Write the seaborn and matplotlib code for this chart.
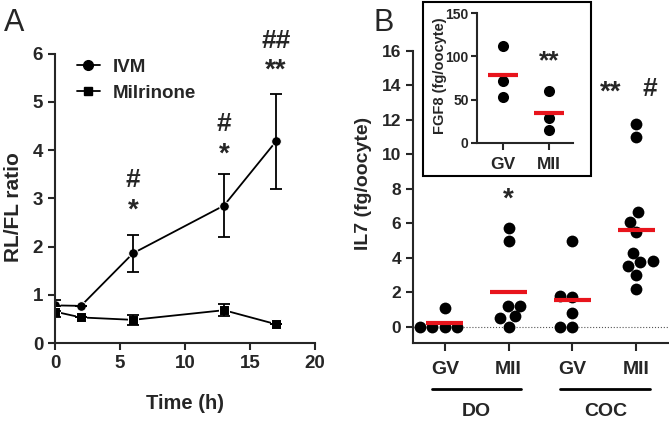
import numpy as np
import pandas as pd
import matplotlib
matplotlib.use("Agg")
import matplotlib.pyplot as plt
import seaborn as sns
from matplotlib.patches import Rectangle
from matplotlib.lines import Line2D

sns.set_style("ticks")
plt.rcParams['font.family'] = ['Liberation Sans', 'DejaVu Sans']
plt.rcParams['font.weight'] = 'bold'

# ---------- Panel A data ----------
time_h = [0, 2, 6, 13, 17]
ivm_mean = [0.78, 0.77, 1.86, 2.85, 4.18]
ivm_err = [0.12, 0.0, 0.38, 0.65, 0.98]
mil_mean = [0.65, 0.53, 0.48, 0.68, 0.39]
mil_err = [0.12, 0.0, 0.10, 0.12, 0.0]
a_star = ['', '', '*', '*', '**']
a_hash = ['', '', '#', '#', '##']
a_star_y = [0, 0, 2.75, 3.9, 5.65]
a_hash_y = [0, 0, 3.37, 4.55, 6.27]

# ---------- Panel B data ----------
b_categories = ['DO GV', 'DO MII', 'COC GV', 'COC MII']
b_ticklabels = ['GV', 'MII', 'GV', 'MII']
do_gv = [1.1, 0.0, 0.0, 0.0, 0.0]
do_mii = [5.72, 4.99, 1.22, 1.18, 0.6, 0.5, 0.0]
coc_gv = [4.95, 1.7, 1.76, 0.79, 0.0, 0.0]
coc_mii = [11.75, 10.98, 6.65, 6.1, 5.49, 4.27, 3.54, 3.73, 3.79, 3.0, 2.18]
groups = ['DO', 'COC']

inset_categories = ['GV', 'MII']
fgf8_gv = [112, 71, 53]
fgf8_mii = [60, 29, 15]

fig = plt.figure(figsize=(6.69, 4.21), dpi=100)

# ================= Panel A =================
axA = fig.add_axes([55/669, 1-343/421, 260/669, 289.4/421])
dfA = pd.DataFrame({
    'Time': time_h * 2,
    'ratio': ivm_mean + mil_mean,
    'group': ['IVM'] * len(time_h) + ['Milrinone'] * len(time_h),
})
sns.lineplot(data=dfA, x='Time', y='ratio', style='group', markers={'IVM': 'o', 'Milrinone': 's'},
             dashes=False, color='black', linewidth=1.3, markersize=7, ax=axA, legend=False)
axA.errorbar(time_h, ivm_mean, yerr=ivm_err, fmt='none', ecolor='black', elinewidth=1.3, capsize=4, capthick=1.3)
axA.errorbar(time_h, mil_mean, yerr=mil_err, fmt='none', ecolor='black', elinewidth=1.3, capsize=4, capthick=1.3)
axA.set_xlim(0, 20)
axA.set_ylim(0, 6)
axA.set_xticks([0, 5, 10, 15, 20])
axA.set_yticks(range(0, 7))
axA.set_xlabel('Time (h)', fontsize=14.5, fontweight='bold')
axA.set_ylabel('RL/FL ratio', fontsize=15, fontweight='bold')
axA.xaxis.set_label_coords(0.5, -0.175)
axA.yaxis.set_label_coords(-0.125, 0.47)
axA.tick_params(labelsize=13.5, width=1.5, length=5)
for lbl in axA.get_xticklabels() + axA.get_yticklabels():
    lbl.set_fontweight('bold')
for s in ['top', 'right']:
    axA.spines[s].set_visible(False)
for s in ['left', 'bottom']:
    axA.spines[s].set_linewidth(1.5)
for x, t, y in zip(time_h, a_star, a_star_y):
    if t:
        axA.text(x, y, t, ha='center', va='center', fontsize=20, fontweight='bold')
for x, t, y in zip(time_h, a_hash, a_hash_y):
    if t:
        axA.text(x, y, t, ha='center', va='center', fontsize=19, fontweight='bold', clip_on=False)
handles = [Line2D([], [], color='black', marker='o', markersize=7, linewidth=1.3),
           Line2D([], [], color='black', marker='s', markersize=6, linewidth=1.3)]
axA.legend(handles, ['IVM', 'Milrinone'], loc='upper left', bbox_to_anchor=(0.02, 1.04), frameon=False,
           prop={'size': 13.5, 'weight': 'bold'}, handlelength=1.2, handletextpad=0.7, labelspacing=0.45)
fig.text(4/669, 1-23/421, 'A', fontsize=22, fontweight='normal', va='center')

# ================= Panel B =================
axB = fig.add_axes([413/669, 1-343/421, 255/669, 292/421])
b_values = [do_gv, do_mii, coc_gv, coc_mii]
dfB = pd.DataFrame({
    'cat': [c for c, v in zip(b_categories, b_values) for _ in v],
    'val': [x for v in b_values for x in v],
})
axB.axhline(0, color='#555555', linestyle=':', linewidth=0.8, zorder=0)
sns.swarmplot(data=dfB, x='cat', y='val', order=b_categories, color='black', size=8.5, ax=axB)
for i, v in enumerate(b_values):
    axB.hlines(np.mean(v), i - 0.29, i + 0.29, color='#e8141c', linewidth=3, zorder=3)
axB.set_xlim(-0.5, 3.5)
axB.set_ylim(-0.95, 16)
axB.set_yticks(range(0, 17, 2))
axB.set_xticks(range(4))
axB.set_xticklabels(b_ticklabels)
axB.set_xlabel('')
axB.set_ylabel('IL7 (fg/oocyte)', fontsize=14, fontweight='bold')
axB.yaxis.set_label_coords(-0.16, 0.545)
axB.tick_params(axis='y', labelsize=12.5, width=1.5, length=5)
axB.tick_params(axis='x', labelsize=14, width=1.5, length=6, pad=7)
for lbl in axB.get_xticklabels() + axB.get_yticklabels():
    lbl.set_fontweight('bold')
for s in ['top', 'right']:
    axB.spines[s].set_visible(False)
for s in ['left', 'bottom']:
    axB.spines[s].set_linewidth(1.5)
tr = axB.get_xaxis_transform()
for (x0, x1), g, xc in zip([(-0.2, 1.2), (1.81, 3.22)], groups, [0.5, 2.52]):
    axB.plot([x0, x1], [-0.158, -0.158], color='black', linewidth=2, transform=tr, clip_on=False)
    axB.text(xc, -0.236, g, transform=tr, ha='center', va='center', fontsize=14, fontweight='bold')
axB.text(1, 7.4, '*', ha='center', va='center', fontsize=20, fontweight='bold')
axB.text(2.6, 13.6, '**', ha='center', va='center', fontsize=20, fontweight='bold')
axB.text(3.22, 13.8, '#', ha='center', va='center', fontsize=19, fontweight='bold')
fig.text(374/669, 1-23/421, 'B', fontsize=22, fontweight='normal', va='center')

# ================= Inset =================
box = Rectangle((423/669, 1-176/421), 168/669, 174/421, transform=fig.transFigure,
                fill=True, facecolor='white', edgecolor='black', linewidth=1.5, zorder=5)
fig.patches.append(box)
axI = fig.add_axes([477/669, 1-143/421, 96/669, 130/421], zorder=6)
axI.patch.set_alpha(0)
i_values = [fgf8_gv, fgf8_mii]
dfI = pd.DataFrame({
    'cat': [c for c, v in zip(inset_categories, i_values) for _ in v],
    'val': [x for v in i_values for x in v],
})
sns.swarmplot(data=dfI, x='cat', y='val', order=inset_categories, color='black', size=8, ax=axI)
for i, v in enumerate(i_values):
    axI.hlines(np.mean(v), i - 0.33, i + 0.33, color='#e8141c', linewidth=3, zorder=3)
axI.set_xlim(-0.57, 1.52)
axI.set_ylim(0, 150)
axI.set_yticks([0, 50, 100, 150])
axI.set_xlabel('')
axI.set_ylabel('FGF8 (fg/oocyte)', fontsize=10.5, fontweight='bold')
axI.yaxis.set_label_coords(-0.31, 0.52)
axI.tick_params(axis='y', labelsize=10, width=1.5, length=4, pad=2)
axI.tick_params(axis='x', labelsize=12.5, width=1.5, length=5, pad=5)
for lbl in axI.get_xticklabels() + axI.get_yticklabels():
    lbl.set_fontweight('bold')
for s in ['top', 'right']:
    axI.spines[s].set_visible(False)
for s in ['left', 'bottom']:
    axI.spines[s].set_linewidth(1.5)
axI.text(1, 94, '**', ha='center', va='center', fontsize=19, fontweight='bold')

fig.savefig('out.png', dpi=100)
